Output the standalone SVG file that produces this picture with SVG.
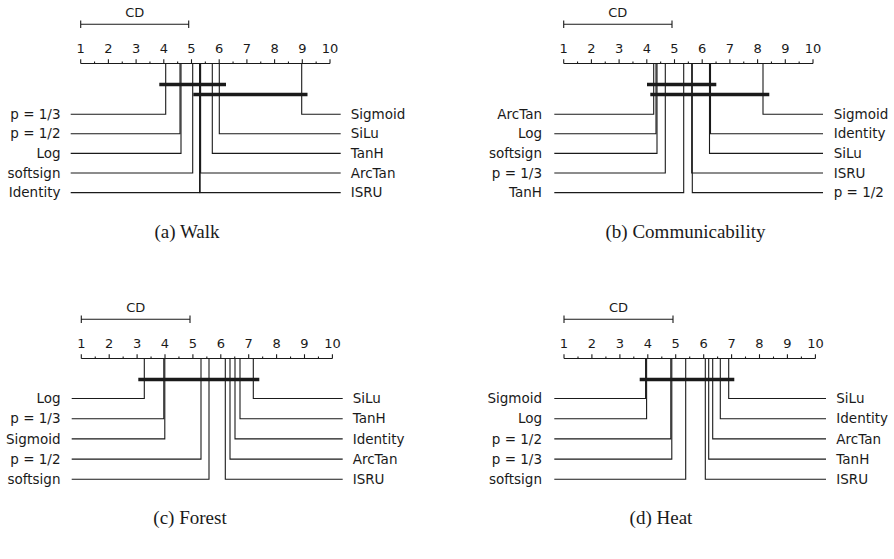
<svg xmlns="http://www.w3.org/2000/svg" width="894" height="559" viewBox="0 0 894 559">
<style>
.ln{stroke:#1a1a1a;stroke-width:1.1;fill:none}
.ax{stroke:#1a1a1a;stroke-width:1.1;fill:none}
.bar{stroke:#1a1a1a;stroke-width:3.5;fill:none}
.t{font-family:"DejaVu Sans",sans-serif;font-size:13.5px;fill:#1a1a1a}
.l{text-anchor:end}
.tk{font-family:"DejaVu Sans",sans-serif;font-size:13px;fill:#1a1a1a;text-anchor:middle}
.cap{font-family:"Liberation Serif",serif;font-size:19px;fill:#1a1a1a;text-anchor:middle}
</style>
<rect width="894" height="559" fill="#ffffff"/>

<!-- Panel A: Walk -->
<g id="panel-a">
  <g id="a-axis">
    <path class="ax" d="M80.7 24.3H188.7M80.7 20.6V28M188.7 20.6V28"/>
    <text class="tk" x="134.7" y="16.5">CD</text>
    <path class="ax" d="M80.7 63.5H330M80.7 63.5V59.3M108.4 63.5V59.3M136.1 63.5V59.3M163.8 63.5V59.3M191.5 63.5V59.3M219.2 63.5V59.3M246.9 63.5V59.3M274.6 63.5V59.3M302.3 63.5V59.3M330 63.5V59.3M94.55 63.5V61.5M122.25 63.5V61.5M149.95 63.5V61.5M177.65 63.5V61.5M205.35 63.5V61.5M233.05 63.5V61.5M260.75 63.5V61.5M288.45 63.5V61.5M316.15 63.5V61.5"/>
    <text class="tk" x="80.7" y="53">1</text><text class="tk" x="108.4" y="53">2</text><text class="tk" x="136.1" y="53">3</text><text class="tk" x="163.8" y="53">4</text><text class="tk" x="191.5" y="53">5</text><text class="tk" x="219.2" y="53">6</text><text class="tk" x="246.9" y="53">7</text><text class="tk" x="274.6" y="53">8</text><text class="tk" x="302.3" y="53">9</text><text class="tk" x="330" y="53">10</text>
  </g>
  <g id="a-connectors">
    <path class="ln" d="M70.7 114.2H165.7V63.5"/>
    <path class="ln" d="M70.7 133.8H180V63.5"/>
    <path class="ln" d="M70.7 153.4H181V63.5"/>
    <path class="ln" d="M70.7 173H192.7V63.5"/>
    <path class="ln" d="M70.7 192.6H199.6V63.5"/>
    <path class="ln" d="M340.7 114.2H301.7V63.5"/>
    <path class="ln" d="M340.7 133.8H219.3V63.5"/>
    <path class="ln" d="M340.7 153.4H212.3V63.5"/>
    <path class="ln" d="M340.7 173H200.6V63.5"/>
    <path class="ln" d="M340.7 192.6H200.1V63.5"/>
    <path class="bar" d="M159.3 84.5H226M193.3 94.5H307.5"/>
  </g>
  <g id="a-labels">
    <text class="t l" x="60.5" y="118.8">p = 1/3</text>
    <text class="t l" x="60.5" y="138.4">p = 1/2</text>
    <text class="t l" x="60.5" y="158">Log</text>
    <text class="t l" x="60.5" y="177.6">softsign</text>
    <text class="t l" x="60.5" y="197.2">Identity</text>
    <text class="t" x="350.7" y="118.8">Sigmoid</text>
    <text class="t" x="350.7" y="138.4">SiLu</text>
    <text class="t" x="350.7" y="158">TanH</text>
    <text class="t" x="350.7" y="177.6">ArcTan</text>
    <text class="t" x="350.7" y="197.2">ISRU</text>
  </g>
  <text class="cap" x="187" y="237.5">(a) Walk</text>
</g>

<!-- Panel B: Communicability -->
<g id="panel-b">
  <g id="b-axis">
    <path class="ax" d="M563.7 24.3H672M563.7 20.6V28M672 20.6V28"/>
    <text class="tk" x="617.85" y="16.5">CD</text>
    <path class="ax" d="M563.7 63.5H813M563.7 63.5V59.3M591.4 63.5V59.3M619.1 63.5V59.3M646.8 63.5V59.3M674.5 63.5V59.3M702.2 63.5V59.3M729.9 63.5V59.3M757.6 63.5V59.3M785.3 63.5V59.3M813 63.5V59.3M577.55 63.5V61.5M605.25 63.5V61.5M632.95 63.5V61.5M660.65 63.5V61.5M688.35 63.5V61.5M716.05 63.5V61.5M743.75 63.5V61.5M771.45 63.5V61.5M799.15 63.5V61.5"/>
    <text class="tk" x="563.7" y="53">1</text><text class="tk" x="591.4" y="53">2</text><text class="tk" x="619.1" y="53">3</text><text class="tk" x="646.8" y="53">4</text><text class="tk" x="674.5" y="53">5</text><text class="tk" x="702.2" y="53">6</text><text class="tk" x="729.9" y="53">7</text><text class="tk" x="757.6" y="53">8</text><text class="tk" x="785.3" y="53">9</text><text class="tk" x="813" y="53">10</text>
  </g>
  <g id="b-connectors">
    <path class="ln" d="M554.3 114.2H653.7V63.5"/>
    <path class="ln" d="M554.3 133.8H656V63.5"/>
    <path class="ln" d="M554.3 153.4H657V63.5"/>
    <path class="ln" d="M554.3 173H665.3V63.5"/>
    <path class="ln" d="M554.3 192.6H683.7V63.5"/>
    <path class="ln" d="M823 114.2H763V63.5"/>
    <path class="ln" d="M823 133.8H710.5V63.5"/>
    <path class="ln" d="M823 153.4H709.5V63.5"/>
    <path class="ln" d="M823 173H691.7V63.5"/>
    <path class="ln" d="M823 192.6H692.3V63.5"/>
    <path class="bar" d="M647 84.5H716.3M650.3 94.5H769.3"/>
  </g>
  <g id="b-labels">
    <text class="t l" x="542" y="118.8">ArcTan</text>
    <text class="t l" x="542" y="138.4">Log</text>
    <text class="t l" x="542" y="158">softsign</text>
    <text class="t l" x="542" y="177.6">p = 1/3</text>
    <text class="t l" x="542" y="197.2">TanH</text>
    <text class="t" x="833.7" y="118.8">Sigmoid</text>
    <text class="t" x="833.7" y="138.4">Identity</text>
    <text class="t" x="833.7" y="158">SiLu</text>
    <text class="t" x="833.7" y="177.6">ISRU</text>
    <text class="t" x="833.7" y="197.2">p = 1/2</text>
  </g>
  <text class="cap" x="685.5" y="237.5">(b) Communicability</text>
</g>

<!-- Panel C: Forest -->
<g id="panel-c">
  <g id="c-axis">
    <path class="ax" d="M81.3 319.3H190M81.3 315.6V323M190 315.6V323"/>
    <text class="tk" x="135.7" y="311.5">CD</text>
    <path class="ax" d="M81.3 358.5H332.4M81.3 358.5V354.3M109.2 358.5V354.3M137.1 358.5V354.3M165 358.5V354.3M192.9 358.5V354.3M220.8 358.5V354.3M248.7 358.5V354.3M276.6 358.5V354.3M304.5 358.5V354.3M332.4 358.5V354.3M95.25 358.5V356.5M123.15 358.5V356.5M151.05 358.5V356.5M178.95 358.5V356.5M206.85 358.5V356.5M234.75 358.5V356.5M262.65 358.5V356.5M290.55 358.5V356.5M318.45 358.5V356.5"/>
    <text class="tk" x="81.3" y="348">1</text><text class="tk" x="109.2" y="348">2</text><text class="tk" x="137.1" y="348">3</text><text class="tk" x="165" y="348">4</text><text class="tk" x="192.9" y="348">5</text><text class="tk" x="220.8" y="348">6</text><text class="tk" x="248.7" y="348">7</text><text class="tk" x="276.6" y="348">8</text><text class="tk" x="304.5" y="348">9</text><text class="tk" x="332.4" y="348">10</text>
  </g>
  <g id="c-connectors">
    <path class="ln" d="M71.7 398.5H144.3V358.5"/>
    <path class="ln" d="M71.7 418.7H163.8V358.5"/>
    <path class="ln" d="M71.7 438.9H164.8V358.5"/>
    <path class="ln" d="M71.7 459.1H201V358.5"/>
    <path class="ln" d="M71.7 479.3H209V358.5"/>
    <path class="ln" d="M342.7 398.5H253.3V358.5"/>
    <path class="ln" d="M342.7 418.7H240V358.5"/>
    <path class="ln" d="M342.7 438.9H235V358.5"/>
    <path class="ln" d="M342.7 459.1H230V358.5"/>
    <path class="ln" d="M342.7 479.3H225.3V358.5"/>
    <path class="bar" d="M138.3 379.5H259.3"/>
  </g>
  <g id="c-labels">
    <text class="t l" x="60.5" y="403.1">Log</text>
    <text class="t l" x="60.5" y="423.3">p = 1/3</text>
    <text class="t l" x="60.5" y="443.5">Sigmoid</text>
    <text class="t l" x="60.5" y="463.7">p = 1/2</text>
    <text class="t l" x="60.5" y="483.9">softsign</text>
    <text class="t" x="352.7" y="403.1">SiLu</text>
    <text class="t" x="352.7" y="423.3">TanH</text>
    <text class="t" x="352.7" y="443.5">Identity</text>
    <text class="t" x="352.7" y="463.7">ArcTan</text>
    <text class="t" x="352.7" y="483.9">ISRU</text>
  </g>
  <text class="cap" x="190" y="523.5">(c) Forest</text>
</g>

<!-- Panel D: Heat -->
<g id="panel-d">
  <g id="d-axis">
    <path class="ax" d="M564 319.3H673M564 315.6V323M673 315.6V323"/>
    <text class="tk" x="618.5" y="311.5">CD</text>
    <path class="ax" d="M564 358.5H815.4M564 358.5V354.3M591.9 358.5V354.3M619.9 358.5V354.3M647.8 358.5V354.3M675.7 358.5V354.3M703.7 358.5V354.3M731.6 358.5V354.3M759.5 358.5V354.3M787.4 358.5V354.3M815.4 358.5V354.3M578 358.5V356.5M605.9 358.5V356.5M633.8 358.5V356.5M661.8 358.5V356.5M689.7 358.5V356.5M717.6 358.5V356.5M745.5 358.5V356.5M773.5 358.5V356.5M801.4 358.5V356.5"/>
    <text class="tk" x="564" y="348">1</text><text class="tk" x="591.9" y="348">2</text><text class="tk" x="619.9" y="348">3</text><text class="tk" x="647.8" y="348">4</text><text class="tk" x="675.7" y="348">5</text><text class="tk" x="703.7" y="348">6</text><text class="tk" x="731.6" y="348">7</text><text class="tk" x="759.5" y="348">8</text><text class="tk" x="787.4" y="348">9</text><text class="tk" x="815.4" y="348">10</text>
  </g>
  <g id="d-connectors">
    <path class="ln" d="M554.3 398.5H645.6V358.5"/>
    <path class="ln" d="M554.3 418.7H646.6V358.5"/>
    <path class="ln" d="M554.3 438.9H670.8V358.5"/>
    <path class="ln" d="M554.3 459.1H671.8V358.5"/>
    <path class="ln" d="M554.3 479.3H685.7V358.5"/>
    <path class="ln" d="M826 398.5H728.7V358.5"/>
    <path class="ln" d="M826 418.7H720.3V358.5"/>
    <path class="ln" d="M826 438.9H712.7V358.5"/>
    <path class="ln" d="M826 459.1H708.7V358.5"/>
    <path class="ln" d="M826 479.3H705.3V358.5"/>
    <path class="bar" d="M639.7 379.5H734.3"/>
  </g>
  <g id="d-labels">
    <text class="t l" x="542" y="403.1">Sigmoid</text>
    <text class="t l" x="542" y="423.3">Log</text>
    <text class="t l" x="542" y="443.5">p = 1/2</text>
    <text class="t l" x="542" y="463.7">p = 1/3</text>
    <text class="t l" x="542" y="483.9">softsign</text>
    <text class="t" x="836.3" y="403.1">SiLu</text>
    <text class="t" x="836.3" y="423.3">Identity</text>
    <text class="t" x="836.3" y="443.5">ArcTan</text>
    <text class="t" x="836.3" y="463.7">TanH</text>
    <text class="t" x="836.3" y="483.9">ISRU</text>
  </g>
  <text class="cap" x="661" y="523.5">(d) Heat</text>
</g>
</svg>
